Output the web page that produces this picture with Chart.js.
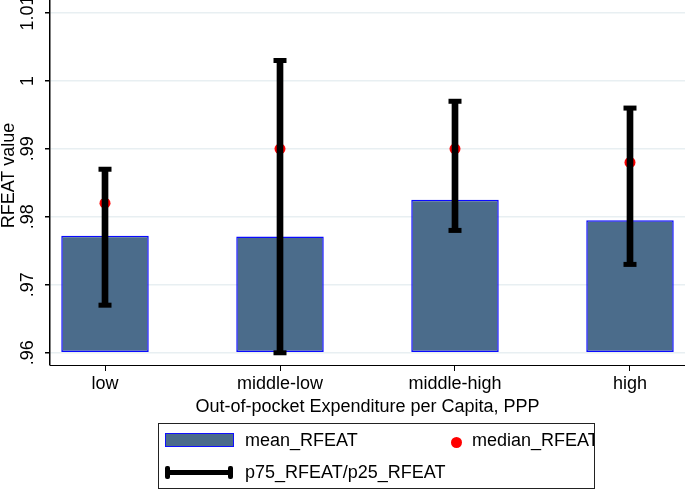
<!DOCTYPE html>
<html>
<head>
<meta charset="utf-8">
<title>RFEAT by out-of-pocket expenditure</title>
<script src="https://cdn.jsdelivr.net/npm/chart.js@4.4.1/dist/chart.umd.min.js"></script>
<style>
    html, body { margin: 0; padding: 0; background: #fff; }
    #wrap { position: relative; width: 685px; height: 490px; }
    #legend {
        position: absolute; left: 158px; top: 423px; width: 437px; height: 66px;
        border: 1px solid #222; box-sizing: border-box; overflow: hidden;
        font: 18px "Liberation Sans", Arial, sans-serif; color: #000;
    }
    #legend .it { position: absolute; white-space: nowrap; line-height: 18px; }
    #legend .swatch { position: absolute; left: 6px; top: 9px; width: 67px; height: 12px; background: #4b6c8b; border: 1px solid #1010ff; }
    #legend .dot { position: absolute; left: 292px; top: 13px; width: 11px; height: 11px; border-radius: 50%; background: #ff0000; }
    #legend .err { position: absolute; left: 6px; top: 46px; width: 68px; height: 5px; background: #000; }
    #legend .err:before, #legend .err:after { content: ""; position: absolute; top: -4px; width: 5px; height: 13px; background: #000; border-radius: 2px; }
    #legend .err:before { left: 0; }
    #legend .err:after { right: 0; }
</style>
</head>
<body>
<div id="wrap">
    <canvas id="rfeatChart" width="685" height="490"></canvas>
    <div id="legend">
        <div class="swatch"></div>
        <div class="it" style="left:86px; top:7px;">mean_RFEAT</div>
        <div class="dot"></div>
        <div class="it" style="left:313px; top:7px;">median_RFEAT</div>
        <div class="err"></div>
        <div class="it" style="left:86px; top:39px;">p75_RFEAT/p25_RFEAT</div>
    </div>
</div>
<script>
// 数据
const categories = ['low', 'middle-low', 'middle-high', 'high'];
const meanVals = [0.9772, 0.9771, 0.9825, 0.9795];
const medianVals = [0.982, 0.990, 0.990, 0.988];
const p75Vals = [0.987, 1.003, 0.997, 0.996];
const p25Vals = [0.967, 0.960, 0.978, 0.973];
const yTicks = [0.96, 0.97, 0.98, 0.99, 1, 1.01];
const yTickLabels = ['.96', '.97', '.98', '.99', '1', '1.01'];

const FONT = '"Liberation Sans", Arial, sans-serif';

// y轴刻度文字和标题（竖排）
const yLabelPlugin = {
    id: 'yLabels',
    afterDraw(chart) {
        const scale = chart.scales.y;
        const area = chart.chartArea;
        const ctx = chart.ctx;
        ctx.save();
        ctx.fillStyle = '#000';
        ctx.font = '18px ' + FONT;
        ctx.textAlign = 'center';
        ctx.textBaseline = 'middle';
        yTicks.forEach((v, i) => {
            ctx.save();
            ctx.translate(28, scale.getPixelForValue(v));
            ctx.rotate(-Math.PI / 2);
            ctx.fillText(yTickLabels[i], 0, 0);
            ctx.restore();
        });
        // 轴标题
        ctx.translate(9, (area.top + area.bottom) / 2 - 7);
        ctx.rotate(-Math.PI / 2);
        ctx.fillText('RFEAT value', 0, 0);
        ctx.restore();
    }
};

new Chart(document.getElementById('rfeatChart'), {
    type: 'bar',
    data: {
        datasets: [
            {
                label: 'mean_RFEAT',
                data: categories.map((c, i) => ({ x: i, y: meanVals[i] })),
                base: 0.96,
                backgroundColor: '#4b6c8b',
                borderColor: '#0a0aff',
                borderWidth: 1.5,
                borderSkipped: false,
                categoryPercentage: 1,
                barPercentage: 0.5,
                grouped: false,
                order: 3
            },
            {
                type: 'line',
                label: 'median_RFEAT',
                data: categories.map((c, i) => ({ x: i, y: medianVals[i] })),
                showLine: false,
                pointRadius: 5.5,
                pointBackgroundColor: '#ff0000',
                pointBorderWidth: 0,
                order: 2
            },
            {
                label: 'p75_RFEAT/p25_RFEAT',
                data: categories.map((c, i) => ({ x: i, y: [p25Vals[i], p75Vals[i]] })),
                backgroundColor: '#000',
                borderWidth: 0,
                barThickness: 6,
                grouped: false,
                order: 1
            },
            {
                type: 'line',
                label: 'caps',
                data: categories.flatMap((c, i) => [{ x: i, y: p75Vals[i] }, { x: i, y: p25Vals[i] }]),
                showLine: false,
                pointStyle: 'line',
                pointRadius: 6.5,
                pointBorderWidth: 5,
                pointBorderColor: '#000',
                order: 0
            }
        ]
    },
    options: {
        responsive: false,
        animation: false,
        layout: { autoPadding: false, padding: { left: 0, right: 0, top: 0, bottom: 70 } },
        plugins: {
            legend: { display: false },
            tooltip: { enabled: false }
        },
        scales: {
            x: {
                type: 'linear',
                min: -0.3143,
                max: 3.3143,
                offset: false,
                afterBuildTicks: s => { s.ticks = categories.map((c, i) => ({ value: i })); },
                afterFit: s => { s.height = 55; },
                ticks: {
                    callback: v => categories[v],
                    color: '#000',
                    font: { size: 18, family: FONT },
                    padding: 2,
                    maxRotation: 0,
                    autoSkip: false
                },
                grid: { offset: false, drawOnChartArea: false, tickColor: '#000', tickLength: 6 },
                border: { color: '#000', width: 1 },
                title: {
                    display: true,
                    text: 'Out-of-pocket Expenditure per Capita, PPP',
                    color: '#000',
                    font: { size: 18, family: FONT },
                    padding: { top: 0, bottom: 2 }
                }
            },
            y: {
                min: 0.9582,
                max: 1.0119,
                beginAtZero: false,
                afterBuildTicks: s => { s.ticks = yTicks.map(v => ({ value: v })); },
                afterFit: s => { s.width = 50; },
                ticks: { display: false },
                grid: { color: '#e8eff2', lineWidth: 1.5, tickColor: '#000', tickLength: 5 },
                border: { color: '#000', width: 1.5 }
            }
        }
    },
    plugins: [yLabelPlugin]
});
</script>
</body>
</html>
